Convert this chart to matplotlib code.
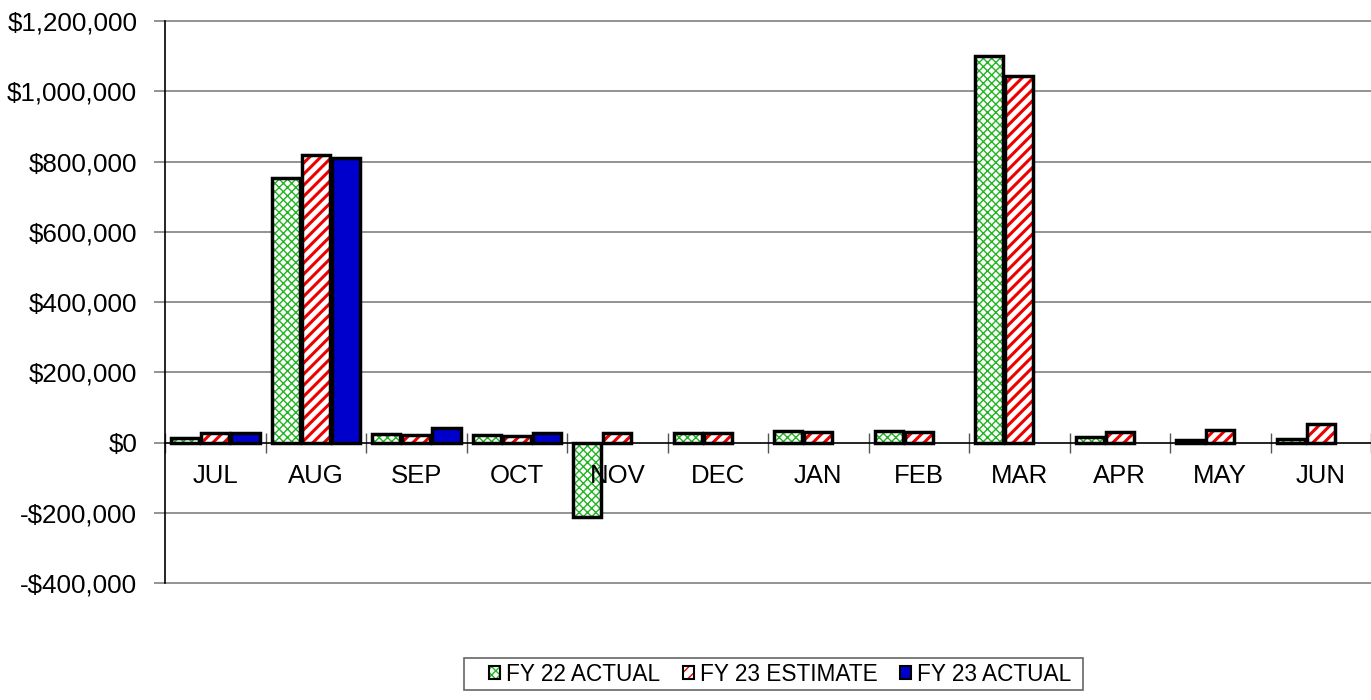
import numpy as np
import matplotlib
matplotlib.use("Agg")
import matplotlib.pyplot as plt
from matplotlib.patches import Patch, Rectangle
from matplotlib.legend_handler import HandlerTuple
from matplotlib.ticker import FuncFormatter, FixedLocator
from matplotlib.transforms import ScaledTranslation

months = ["JUL", "AUG", "SEP", "OCT", "NOV", "DEC", "JAN", "FEB", "MAR", "APR", "MAY", "JUN"]
series_names = ["FY 22 ACTUAL", "FY 23 ESTIMATE", "FY 23 ACTUAL"]
fy22_actual = [14000, 752000, 23000, 20000, -211000, 28000, 33000, 33000, 1100000, 16000, 8000, 11000]
fy23_estimate = [28000, 818000, 22000, 19000, 28000, 28000, 31000, 31000, 1043000, 31000, 37000, 54000]
fy23_actual = [28000, 809000, 40000, 28000, np.nan, np.nan, np.nan, np.nan, np.nan, np.nan, np.nan, np.nan]
y_ticks = [-400000, -200000, 0, 200000, 400000, 600000, 800000, 1000000, 1200000]

plt.rcParams['font.family'] = ['Liberation Sans', 'DejaVu Sans']

fig = plt.figure(figsize=(13.71, 7.0), dpi=100)
ax = fig.add_axes([0.1204, 0.1671, 0.8796, 0.8029])

x = np.arange(len(months))
w = 0.28
offs = [-0.30, 0.0, 0.30]
styles = [
    dict(face="white", hatchcol="#22b422", hatch="xxxx", hlw=1.0),
    dict(face="white", hatchcol="#ee0000", hatch="///", hlw=2.2),
    dict(face="#0000cc", hatchcol="#0000cc", hatch=None, hlw=1.0),
]
data = [fy22_actual, fy23_estimate, fy23_actual]
handles = []
for vals, off, st in zip(data, offs, styles):
    v = np.array(vals, dtype=float)
    plt.rcParams['hatch.linewidth'] = st["hlw"]
    ax.bar(x + off, v, width=w, color=st["face"], edgecolor=st["hatchcol"],
           hatch=st["hatch"], linewidth=0, zorder=3)
    ax.bar(x + off, v, width=w, fill=False, edgecolor="black", linewidth=2.5, zorder=4)
    p1 = Patch(facecolor=st["face"], edgecolor=st["hatchcol"], hatch=st["hatch"], linewidth=0)
    p2 = Patch(fill=False, edgecolor="black", linewidth=1.5)
    handles.append((p1, p2))

ax.set_xlim(-0.5, len(months) - 0.5)
ax.set_ylim(y_ticks[0], y_ticks[-1])
ax.yaxis.set_major_locator(FixedLocator(y_ticks))

def money(v, pos):
    if v < 0:
        return "-${:,.0f}".format(-v)
    return "${:,.0f}".format(v)
ax.yaxis.set_major_formatter(FuncFormatter(money))
for yv in y_ticks:
    if yv != 0:
        ax.axhline(yv, color="#808080", linewidth=1.2, zorder=0.5, clip_on=False)

ax.spines["top"].set_visible(False)
ax.spines["right"].set_visible(False)
ax.spines["bottom"].set_position(("data", 0))
ax.spines["bottom"].set_zorder(5)
ax.spines["bottom"].set_linewidth(1.2)
ax.spines["left"].set_linewidth(1.2)

ax.set_xticks(np.arange(-0.5, len(months) - 0.5 + 0.01, 1.0))
ax.set_xticklabels([])
ax.tick_params(axis="x", which="major", direction="inout", length=14, width=1, color="#555555")
ax.tick_params(axis="y", which="major", length=8, width=1.2, color="#808080",
               labelsize=18.7, pad=12)

off_t = ax.transData + ScaledTranslation(0, -0.40, fig.dpi_scale_trans)
for xi, m in zip(x, months):
    ax.text(xi, 0, m, transform=off_t, ha="center", va="baseline", fontsize=18.5, zorder=10)

leg = fig.legend(handles, series_names, handler_map={tuple: HandlerTuple(ndivide=1)},
                 loc="center", bbox_to_anchor=(0.5689, 0.0371),
                 ncol=3, fontsize=16.3, frameon=False,
                 handlelength=0.5, handleheight=0.5, handletextpad=0.25,
                 columnspacing=1.0, borderpad=0.0)
fig.patches.append(Rectangle((464 / 1371, 1 - 690 / 700), (1083 - 464) / 1371, 32 / 700,
                             transform=fig.transFigure, fill=False, edgecolor="#666666",
                             linewidth=1.2))

fig.savefig("out.png", dpi=100)
